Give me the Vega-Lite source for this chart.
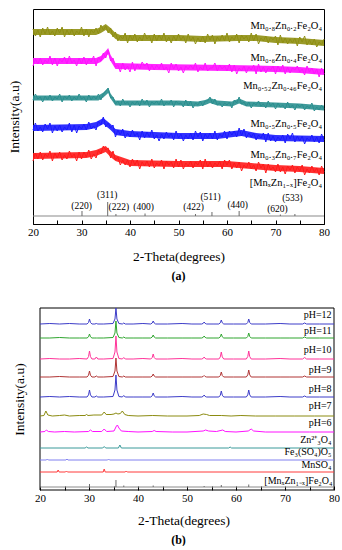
{
"$schema": "https://vega.github.io/schema/vega-lite/v6.json",
"padding": {"left": 6, "top": 8, "right": 0, "bottom": 0},
"config": {"font": "Liberation Serif", "view": {"stroke": "#000", "strokeWidth": 1},
 "axis": {"labelFont": "Liberation Serif", "titleFont": "Liberation Serif", "labelFontSize": 11, "titleFontSize": 13.5, "titleFontWeight": "normal", "labelColor": "#000", "titleColor": "#000", "domainColor": "#000", "tickColor": "#000", "grid": false}},
"resolve": {"scale": {"color": "independent", "strokeWidth": "independent", "x": "independent", "y": "independent"}},
"concat": [
{
 "width": 291, "height": 215,
 "title": {"text": "(a)", "orient": "bottom", "fontSize": 12, "fontWeight": "bold", "font": "Liberation Serif", "offset": 8, "frame": "group"},
 "encoding": {
  "x": {"field": "x", "type": "quantitative", "scale": {"domain": [20, 80], "nice": false, "zero": false},
   "axis": {"title": "2-Theta(degrees)", "values": [20,25,30,35,40,45,50,55,60,65,70,75,80], "labelExpr": "datum.value % 10 === 0 ? datum.label : ''", "tickSize": -4, "labelPadding": 6, "titlePadding": 12, "labelFlush": false}},
  "y": {"field": "y", "type": "quantitative", "scale": {"domain": [0, 215], "nice": false, "zero": false},
   "axis": {"title": "Intensity(a.u)", "labels": false, "ticks": false, "domain": false, "titlePadding": 12, "minExtent": 0}}
 },
 "layer": [
  {"data": {"values": [
{"s":"a","x":20,"y":189,"y2":195},{"s":"a","x":33,"y":189,"y2":195},{"s":"a","x":34,"y":191,"y2":197},{"s":"a","x":35,"y":194,"y2":200},{"s":"a","x":36,"y":190,"y2":196},{"s":"a","x":37,"y":185,"y2":191},{"s":"a","x":38,"y":183,"y2":189},{"s":"a","x":50,"y":183,"y2":189},{"s":"a","x":55,"y":182,"y2":188},{"s":"a","x":62,"y":183,"y2":189},{"s":"a","x":66,"y":183,"y2":189},{"s":"a","x":70,"y":181,"y2":187},{"s":"a","x":75,"y":180,"y2":186},{"s":"a","x":80,"y":178,"y2":184},
{"s":"b","x":20,"y":160,"y2":166},{"s":"b","x":33,"y":160,"y2":166},{"s":"b","x":34,"y":162,"y2":168},{"s":"b","x":35,"y":167,"y2":173},{"s":"b","x":35.5,"y":170,"y2":176},{"s":"b","x":36,"y":163,"y2":169},{"s":"b","x":37,"y":155,"y2":161},{"s":"b","x":45,"y":154,"y2":160},{"s":"b","x":60,"y":153,"y2":159},{"s":"b","x":70,"y":152,"y2":158},{"s":"b","x":75,"y":151,"y2":157},{"s":"b","x":80,"y":149,"y2":155},
{"s":"c","x":20,"y":123.5,"y2":128.5},{"s":"c","x":33.5,"y":123.5,"y2":128.5},{"s":"c","x":34.5,"y":126.5,"y2":131.5},{"s":"c","x":35.5,"y":131,"y2":136},{"s":"c","x":36,"y":125.5,"y2":130.5},{"s":"c","x":37,"y":118.5,"y2":123.5},{"s":"c","x":50,"y":118.5,"y2":123.5},{"s":"c","x":54,"y":117.5,"y2":122.5},{"s":"c","x":55.5,"y":119,"y2":124},{"s":"c","x":56.5,"y":121,"y2":126},{"s":"c","x":58,"y":118.5,"y2":123.5},{"s":"c","x":61,"y":117.5,"y2":122.5},{"s":"c","x":62.5,"y":120.5,"y2":125.5},{"s":"c","x":64,"y":117.5,"y2":122.5},{"s":"c","x":70,"y":116.5,"y2":121.5},{"s":"c","x":75,"y":115.5,"y2":120.5},{"s":"c","x":80,"y":113.5,"y2":118.5},
{"s":"d","x":20,"y":93,"y2":99},{"s":"d","x":31,"y":94,"y2":100},{"s":"d","x":33,"y":96,"y2":102},{"s":"d","x":34.5,"y":100,"y2":106},{"s":"d","x":36,"y":94,"y2":100},{"s":"d","x":37,"y":89,"y2":95},{"s":"d","x":40,"y":87,"y2":93},{"s":"d","x":50,"y":85,"y2":91},{"s":"d","x":58,"y":85,"y2":91},{"s":"d","x":63,"y":88,"y2":94},{"s":"d","x":66,"y":85,"y2":91},{"s":"d","x":70,"y":83,"y2":89},{"s":"d","x":80,"y":82,"y2":88},
{"s":"e","x":20,"y":65,"y2":71},{"s":"e","x":31,"y":66,"y2":72},{"s":"e","x":33,"y":68,"y2":74},{"s":"e","x":35,"y":72,"y2":78},{"s":"e","x":36,"y":67,"y2":73},{"s":"e","x":37,"y":63,"y2":69},{"s":"e","x":40,"y":58,"y2":64},{"s":"e","x":50,"y":57,"y2":63},{"s":"e","x":60,"y":57,"y2":63},{"s":"e","x":65,"y":55,"y2":61},{"s":"e","x":70,"y":53,"y2":59},{"s":"e","x":75,"y":52,"y2":58},{"s":"e","x":80,"y":50,"y2":56}
  ]},
  "mark": {"type": "area", "opacity": 0.9},
  "encoding": {"y2": {"field": "y2"}, "color": {"field": "s", "type": "nominal", "legend": null, "scale": {"domain": ["a","b","c","d","e"], "range": ["#8f8f12", "#ff10ff", "#2a8f8f", "#1a1aff", "#ff1a1a"]}}}},
  {"data": {"values": [
{"x":20,"a":195,"b":158,"c":124,"d":94,"e":63},
{"x":20.5,"a":188,"b":165,"c":130,"d":101,"e":71},
{"x":21,"a":194,"b":160,"c":125,"d":93,"e":65},
{"x":21.5,"a":187,"b":166,"c":127,"d":97,"e":72},
{"x":22,"a":196,"b":159,"c":122,"d":92,"e":64},
{"x":22.5,"a":190,"b":164,"c":128,"d":100,"e":70},
{"x":23,"a":197,"b":161,"c":124,"d":95,"e":67},
{"x":23.5,"a":189,"b":168,"c":129,"d":101,"e":73},
{"x":24,"a":193,"b":159,"c":123,"d":91,"e":63},
{"x":24.5,"a":188,"b":166,"c":127,"d":98,"e":71},
{"x":25,"a":196,"b":158,"c":125,"d":93,"e":66},
{"x":25.5,"a":191,"b":165,"c":130,"d":99,"e":72},
{"x":26,"a":197,"b":162,"c":122,"d":92,"e":64},
{"x":26.5,"a":187,"b":167,"c":128,"d":97,"e":69},
{"x":27,"a":194,"b":160,"c":125,"d":94,"e":65},
{"x":27.5,"a":189,"b":168,"c":129,"d":101,"e":73},
{"x":28,"a":195,"b":161,"c":123,"d":92,"e":67},
{"x":28.5,"a":188,"b":164,"c":127,"d":99,"e":70},
{"x":29,"a":193,"b":158,"c":124,"d":91,"e":63},
{"x":29.5,"a":190,"b":166,"c":130,"d":98,"e":72},
{"x":30,"a":197,"b":160,"c":125,"d":95,"e":65},
{"x":30.5,"a":188,"b":167,"c":127,"d":100,"e":72},
{"x":31,"a":195,"b":159,"c":122,"d":94,"e":67},
{"x":31.5,"a":187,"b":165,"c":129,"d":102,"e":74},
{"x":32,"a":194,"b":162,"c":124,"d":95,"e":65},
{"x":32.5,"a":191,"b":168,"c":128,"d":98,"e":70},
{"x":33,"a":196,"b":158,"c":125,"d":94,"e":66},
{"x":33.5,"a":190,"b":167,"c":130,"d":103,"e":74},
{"x":34,"a":199,"b":163,"c":124,"d":99,"e":70},
{"x":34.5,"a":194,"b":171,"c":130,"d":107,"e":78},
{"x":35,"a":198,"b":166,"c":133,"d":97,"e":74},
{"x":35.5,"a":191,"b":174,"c":136,"d":101,"e":76},
{"x":36,"a":196,"b":163,"c":126,"d":96,"e":66},
{"x":36.5,"a":187,"b":166,"c":127,"d":99,"e":73},
{"x":37,"a":192,"b":157,"c":120,"d":87,"e":64},
{"x":37.5,"a":183,"b":159,"c":123,"d":94,"e":67},
{"x":38,"a":188,"b":152,"c":118,"d":89,"e":59},
{"x":38.5,"a":185,"b":161,"c":125,"d":95,"e":64},
{"x":39,"a":191,"b":154,"c":120,"d":86,"e":59},
{"x":39.5,"a":181,"b":158,"c":122,"d":91,"e":64},
{"x":40,"a":189,"b":152,"c":117,"d":87,"e":57},
{"x":40.5,"a":184,"b":162,"c":122,"d":94,"e":65},
{"x":41,"a":190,"b":153,"c":119,"d":88,"e":59},
{"x":41.5,"a":182,"b":160,"c":123,"d":91,"e":64},
{"x":42,"a":187,"b":155,"c":118,"d":84,"e":55},
{"x":42.5,"a":183,"b":162,"c":125,"d":93,"e":62},
{"x":43,"a":191,"b":158,"c":120,"d":86,"e":58},
{"x":43.5,"a":185,"b":161,"c":124,"d":92,"e":63},
{"x":44,"a":188,"b":153,"c":117,"d":87,"e":57},
{"x":44.5,"a":181,"b":159,"c":122,"d":94,"e":65},
{"x":45,"a":190,"b":154,"c":120,"d":85,"e":56},
{"x":45.5,"a":183,"b":159,"c":123,"d":89,"e":61},
{"x":46,"a":189,"b":155,"c":119,"d":83,"e":58},
{"x":46.5,"a":184,"b":161,"c":125,"d":90,"e":64},
{"x":47,"a":191,"b":154,"c":118,"d":85,"e":55},
{"x":47.5,"a":182,"b":157,"c":122,"d":92,"e":63},
{"x":48,"a":187,"b":151,"c":120,"d":87,"e":59},
{"x":48.5,"a":181,"b":161,"c":124,"d":91,"e":62},
{"x":49,"a":188,"b":155,"c":117,"d":84,"e":56},
{"x":49.5,"a":183,"b":160,"c":123,"d":93,"e":65},
{"x":50,"a":190,"b":153,"c":120,"d":86,"e":57},
{"x":50.5,"a":184,"b":157,"c":121,"d":90,"e":64},
{"x":51,"a":188,"b":151,"c":117,"d":83,"e":55},
{"x":51.5,"a":181,"b":158,"c":124,"d":89,"e":61},
{"x":52,"a":190,"b":155,"c":118,"d":85,"e":58},
{"x":52.5,"a":183,"b":159,"c":123,"d":91,"e":63},
{"x":53,"a":187,"b":155,"c":116,"d":84,"e":56},
{"x":53.5,"a":180,"b":161,"c":121,"d":93,"e":62},
{"x":54,"a":186,"b":152,"c":119,"d":87,"e":59},
{"x":54.5,"a":182,"b":157,"c":123,"d":92,"e":64},
{"x":55,"a":188,"b":154,"c":118,"d":83,"e":55},
{"x":55.5,"a":181,"b":161,"c":123,"d":90,"e":65},
{"x":56,"a":190,"b":153,"c":123,"d":86,"e":57},
{"x":56.5,"a":184,"b":156,"c":127,"d":91,"e":62},
{"x":57,"a":189,"b":156,"c":120,"d":85,"e":56},
{"x":57.5,"a":180,"b":161,"c":125,"d":93,"e":61},
{"x":58,"a":187,"b":153,"c":119,"d":84,"e":58},
{"x":58.5,"a":183,"b":159,"c":121,"d":90,"e":63},
{"x":59,"a":189,"b":155,"c":117,"d":87,"e":55},
{"x":59.5,"a":183,"b":158,"c":121,"d":93,"e":64},
{"x":60,"a":191,"b":153,"c":119,"d":85,"e":59},
{"x":60.5,"a":182,"b":160,"c":122,"d":93,"e":64},
{"x":61,"a":187,"b":152,"c":116,"d":89,"e":55},
{"x":61.5,"a":184,"b":159,"c":124,"d":93,"e":61},
{"x":62,"a":190,"b":150,"c":121,"d":87,"e":56},
{"x":62.5,"a":181,"b":156,"c":127,"d":96,"e":62},
{"x":63,"a":189,"b":153,"c":120,"d":88,"e":53},
{"x":63.5,"a":185,"b":158,"c":122,"d":95,"e":59},
{"x":64,"a":188,"b":151,"c":118,"d":86,"e":56},
{"x":64.5,"a":182,"b":157,"c":122,"d":91,"e":62},
{"x":65,"a":191,"b":154,"c":116,"d":87,"e":55},
{"x":65.5,"a":183,"b":159,"c":121,"d":91,"e":59},
{"x":66,"a":190,"b":150,"c":119,"d":84,"e":53},
{"x":66.5,"a":180,"b":160,"c":123,"d":89,"e":62},
{"x":67,"a":186,"b":152,"c":118,"d":86,"e":56},
{"x":67.5,"a":183,"b":157,"c":120,"d":91,"e":60},
{"x":68,"a":188,"b":151,"c":116,"d":82,"e":51},
{"x":68.5,"a":181,"b":156,"c":123,"d":91,"e":60},
{"x":69,"a":187,"b":154,"c":118,"d":83,"e":54},
{"x":69.5,"a":184,"b":158,"c":121,"d":88,"e":57},
{"x":70,"a":188,"b":150,"c":115,"d":82,"e":52},
{"x":70.5,"a":179,"b":158,"c":121,"d":87,"e":60},
{"x":71,"a":189,"b":153,"c":117,"d":84,"e":52},
{"x":71.5,"a":181,"b":159,"c":119,"d":89,"e":57},
{"x":72,"a":186,"b":150,"c":115,"d":81,"e":50},
{"x":72.5,"a":180,"b":157,"c":122,"d":90,"e":58},
{"x":73,"a":185,"b":151,"c":116,"d":85,"e":54},
{"x":73.5,"a":181,"b":156,"c":119,"d":91,"e":59},
{"x":74,"a":186,"b":154,"c":114,"d":82,"e":51},
{"x":74.5,"a":178,"b":158,"c":120,"d":88,"e":57},
{"x":75,"a":187,"b":152,"c":117,"d":83,"e":53},
{"x":75.5,"a":182,"b":155,"c":120,"d":88,"e":59},
{"x":76,"a":188,"b":149,"c":114,"d":80,"e":49},
{"x":76.5,"a":179,"b":158,"c":118,"d":86,"e":55},
{"x":77,"a":184,"b":152,"c":116,"d":83,"e":51},
{"x":77.5,"a":179,"b":156,"c":121,"d":89,"e":58},
{"x":78,"a":185,"b":150,"c":113,"d":82,"e":52},
{"x":78.5,"a":177,"b":155,"c":117,"d":87,"e":56},
{"x":79,"a":182,"b":147,"c":114,"d":81,"e":49},
{"x":79.5,"a":179,"b":156,"c":119,"d":90,"e":58},
{"x":80,"a":185,"b":150,"c":115,"d":84,"e":52}
  ]},
  "transform": [{"fold": ["a", "b", "c", "d", "e"], "as": ["s", "y"]}],
  "mark": {"type": "line", "strokeWidth": 1},
  "encoding": {"color": {"field": "s", "type": "nominal", "legend": null, "scale": {"domain": ["a","b","c","d","e"], "range": ["#8f8f12", "#ff10ff", "#2a8f8f", "#1a1aff", "#ff1a1a"]}}}},
  {"data": {"values": [{"x": 20, "y": 8}, {"x": 80, "y": 8}]},
   "mark": {"type": "line", "color": "#8a8a8a", "strokeWidth": 1.2}, "encoding": {}},
  {"data": {"values": [
{"x":30.1,"y":8,"y2":13},{"x":35.4,"y":8,"y2":22},{"x":37.1,"y":8,"y2":10},{"x":43.1,"y":8,"y2":10.5},{"x":53.5,"y":8,"y2":10},{"x":56.9,"y":8,"y2":12},{"x":62.5,"y":8,"y2":13},{"x":71,"y":8,"y2":9.5},{"x":74,"y":8,"y2":10}]},
   "mark": {"type": "rule", "color": "#6a6a6a", "strokeWidth": 1}, "encoding": {"y2": {"field": "y2"}}},
  {"data": {"values": [
{"x":30,"y":18,"t":"(220)"},{"x":35.3,"y":29,"t":"(311)"},{"x":37.7,"y":17,"t":"(222)"},{"x":42.8,"y":17,"t":"(400)"},{"x":53.1,"y":17,"t":"(422)"},{"x":56.6,"y":27,"t":"(511)"},{"x":62.2,"y":19,"t":"(440)"},{"x":70.4,"y":15,"t":"(620)"},{"x":73.5,"y":26,"t":"(533)"}]},
   "mark": {"type": "text", "align": "center", "baseline": "middle", "fontSize": 9.5, "color": "#000"}, "encoding": {"text": {"field": "t"}}},
  {"data": {"values": [
{"x":79.6,"y":198,"t":"Mn₀.₈Zn₀.₂Fe₂O₄"},{"x":79.6,"y":166,"t":"Mn₀.₆Zn₀.₄Fe₂O₄"},{"x":79.6,"y":138,"t":"Mn₀.₅₂Zn₀.₄₆Fe₂O₄"},{"x":79.6,"y":100,"t":"Mn₀.₅Zn₀.₅Fe₂O₄"},{"x":79.6,"y":69,"t":"Mn₀.₃Zn₀.₇Fe₂O₄"},{"x":79.6,"y":41,"t":"[MnₓZn₁₋ₓ]Fe₂O₄"}]},
   "mark": {"type": "text", "align": "right", "baseline": "middle", "fontSize": 10.5, "color": "#000"}, "encoding": {"text": {"field": "t"}}}
 ]
},
{
 "width": 301, "height": 182,
 "view": {"stroke": null},
 "title": {"text": "(b)", "orient": "bottom", "fontSize": 12, "fontWeight": "bold", "font": "Liberation Serif", "offset": 8, "frame": "group", "dx": -5},
 "encoding": {
  "x": {"field": "x", "type": "quantitative", "scale": {"domain": [18.57, 80], "nice": false, "zero": false},
   "axis": {"title": "2-Theta(degrees)", "values": [20,25,30,35,40,45,50,55,60,65,70,75,80], "labelExpr": "datum.value % 10 === 0 ? datum.label : ''", "tickSize": -4, "labelPadding": 6, "titlePadding": 10, "labelFlush": false, "domain": false}},
  "y": {"field": "y", "type": "quantitative", "scale": {"domain": [0, 182], "nice": false, "zero": false},
   "axis": {"title": "Intensity(a.u)", "labels": false, "ticks": false, "domain": false, "titlePadding": 7, "minExtent": 0}}
 },
 "layer": [
  {"data": {"values": [
{"x":20,"y":0,"x2":80,"y2":0},{"x":20,"y":182,"x2":80,"y2":182},{"x":20,"y":0,"x2":20,"y2":182},{"x":80,"y":0,"x2":80,"y2":182}]},
   "mark": {"type": "rule", "color": "#000", "strokeWidth": 1}, "encoding": {"x2": {"field": "x2"}, "y2": {"field": "y2"}}},
  {"data": {"values": [
{"x":20,"p12":166,"p11":152,"p10":131,"p9":113,"p8":93},
{"x":22,"p12":166.5,"p11":152,"p10":131.5,"p9":113,"p8":93.5},
{"x":24,"p12":166,"p11":152.5,"p10":131,"p9":113.5,"p8":93},
{"x":26,"p12":166.5,"p11":152,"p10":131,"p9":113,"p8":93.5},
{"x":28,"p12":166,"p11":152,"p10":131.5,"p9":113,"p8":93},
{"x":29.6,"p12":166,"p11":152,"p10":131,"p9":113,"p8":93},
{"x":29.9,"p12":167.5,"p11":153.2,"p10":133.4,"p9":114.8,"p8":95.1},
{"x":30.1,"p12":171,"p11":156,"p10":139,"p9":119,"p8":100},
{"x":30.3,"p12":167.5,"p11":153.2,"p10":133.4,"p9":114.8,"p8":95.1},
{"x":30.6,"p12":166,"p11":152,"p10":131,"p9":113,"p8":93},
{"x":31.2,"p12":166,"p11":152,"p10":131,"p9":113,"p8":93},
{"x":31.5,"p12":166.5,"p11":152,"p10":133,"p9":114,"p8":94},
{"x":31.8,"p12":166,"p11":152,"p10":131,"p9":113,"p8":93},
{"x":33,"p12":166,"p11":152,"p10":131,"p9":113,"p8":93},
{"x":34.9,"p12":166.5,"p11":152.5,"p10":131.5,"p9":113.5,"p8":93.5},
{"x":35.3,"p12":171,"p11":157,"p10":138,"p9":119,"p8":100},
{"x":35.5,"p12":182,"p11":169,"p10":154,"p9":132,"p8":115},
{"x":35.7,"p12":171,"p11":157,"p10":138,"p9":119,"p8":100},
{"x":36.1,"p12":166.5,"p11":152.5,"p10":131.5,"p9":113.5,"p8":93.5},
{"x":36.8,"p12":166,"p11":152,"p10":131,"p9":113,"p8":93},
{"x":37.1,"p12":167,"p11":153,"p10":132.5,"p9":114,"p8":94.5},
{"x":37.4,"p12":166,"p11":152,"p10":131,"p9":113,"p8":93},
{"x":39,"p12":166,"p11":152,"p10":131,"p9":113,"p8":93},
{"x":41,"p12":166.5,"p11":152,"p10":131.5,"p9":113,"p8":93},
{"x":42.6,"p12":166,"p11":152,"p10":131,"p9":113,"p8":93},
{"x":42.9,"p12":167,"p11":153,"p10":132.5,"p9":114,"p8":94.2},
{"x":43.1,"p12":169,"p11":155,"p10":136,"p9":116,"p8":97},
{"x":43.3,"p12":167,"p11":153,"p10":132.5,"p9":114,"p8":94.2},
{"x":43.6,"p12":166,"p11":152,"p10":131,"p9":113,"p8":93},
{"x":46,"p12":166,"p11":152,"p10":131,"p9":113,"p8":93},
{"x":49,"p12":166.5,"p11":152,"p10":131.5,"p9":113,"p8":93.5},
{"x":51,"p12":166,"p11":152,"p10":131,"p9":113,"p8":93},
{"x":53.0,"p12":166,"p11":152,"p10":131,"p9":113,"p8":93},
{"x":53.3,"p12":166.6,"p11":152.6,"p10":131.6,"p9":113.5,"p8":93.6},
{"x":53.5,"p12":168,"p11":154,"p10":133,"p9":114.5,"p8":95},
{"x":53.7,"p12":166.6,"p11":152.6,"p10":131.6,"p9":113.5,"p8":93.6},
{"x":54.0,"p12":166,"p11":152,"p10":131,"p9":113,"p8":93},
{"x":55.5,"p12":166,"p11":152,"p10":131,"p9":113,"p8":93},
{"x":56.5,"p12":166,"p11":152,"p10":131,"p9":113,"p8":93},
{"x":56.8,"p12":167.2,"p11":153.2,"p10":133.1,"p9":114.5,"p8":94.8},
{"x":57.0,"p12":170,"p11":156,"p10":138,"p9":118,"p8":99},
{"x":57.2,"p12":167.2,"p11":153.2,"p10":133.1,"p9":114.5,"p8":94.8},
{"x":57.5,"p12":166,"p11":152,"p10":131,"p9":113,"p8":93},
{"x":59.5,"p12":166,"p11":152,"p10":131,"p9":113,"p8":93},
{"x":62.1,"p12":166,"p11":152,"p10":131,"p9":113,"p8":93},
{"x":62.4,"p12":167.5,"p11":153.5,"p10":133.4,"p9":115.1,"p8":95.1},
{"x":62.6,"p12":171,"p11":157,"p10":139,"p9":120,"p8":100},
{"x":62.8,"p12":167.5,"p11":153.5,"p10":133.4,"p9":115.1,"p8":95.1},
{"x":63.1,"p12":166,"p11":152,"p10":131,"p9":113,"p8":93},
{"x":66,"p12":166,"p11":152,"p10":131,"p9":113,"p8":93},
{"x":69,"p12":166.5,"p11":152,"p10":131.5,"p9":113,"p8":93.5},
{"x":71,"p12":166,"p11":152,"p10":131,"p9":113,"p8":93},
{"x":73.6,"p12":166,"p11":152,"p10":131,"p9":113,"p8":93},
{"x":74.0,"p12":167,"p11":153,"p10":132.5,"p9":114,"p8":94},
{"x":74.4,"p12":166,"p11":152,"p10":131,"p9":113,"p8":93},
{"x":77,"p12":166,"p11":152,"p10":131,"p9":113,"p8":93},
{"x":80,"p12":166,"p11":152,"p10":131,"p9":113,"p8":93}
  ]},
  "transform": [{"fold": ["p12", "p11", "p10", "p9", "p8"], "as": ["s", "y"]}],
  "mark": {"type": "line", "strokeWidth": 1},
  "encoding": {"color": {"field": "s", "type": "nominal", "legend": null, "scale": {"domain": ["p12","p11","p10","p9","p8","p7","p6","zn","fe","mn","ref"], "range": ["#3c3cc8","#2fa52f","#ff3399","#b03434","#3c3cc8","#8b8b10","#ff10ff","#3a9a9a","#8080f0","#ff3b3b","#8a8a8a"]}}}},
  {"data": {"values": [
{"s":"p7","x":20,"y":74},{"s":"p7","x":20.8,"y":74.5},{"s":"p7","x":21.2,"y":79},{"s":"p7","x":21.6,"y":75},{"s":"p7","x":22.5,"y":74},{"s":"p7","x":24,"y":74.5},{"s":"p7","x":25,"y":75},{"s":"p7","x":26,"y":74},{"s":"p7","x":28,"y":74.5},{"s":"p7","x":29.2,"y":74.5},{"s":"p7","x":29.5,"y":75.5},{"s":"p7","x":29.8,"y":74.5},{"s":"p7","x":31,"y":75},{"s":"p7","x":32.6,"y":75},{"s":"p7","x":33.1,"y":78},{"s":"p7","x":33.5,"y":75.5},{"s":"p7","x":34.5,"y":75.5},{"s":"p7","x":35.1,"y":76},{"s":"p7","x":35.5,"y":77},{"s":"p7","x":35.9,"y":76},{"s":"p7","x":36.4,"y":76.5},{"s":"p7","x":36.8,"y":79},{"s":"p7","x":37.3,"y":75.5},{"s":"p7","x":38,"y":74.5},{"s":"p7","x":40,"y":74},{"s":"p7","x":43,"y":74.5},{"s":"p7","x":46,"y":74},{"s":"p7","x":50,"y":74},{"s":"p7","x":52.5,"y":74.5},{"s":"p7","x":53.3,"y":76},{"s":"p7","x":54,"y":75.5},{"s":"p7","x":54.6,"y":74.5},{"s":"p7","x":57,"y":74.5},{"s":"p7","x":59,"y":74},{"s":"p7","x":61,"y":74.5},{"s":"p7","x":64,"y":74},{"s":"p7","x":68,"y":74},{"s":"p7","x":72,"y":74},{"s":"p7","x":76,"y":74},{"s":"p7","x":80,"y":74},
{"s":"p6","x":20,"y":58},{"s":"p6","x":21,"y":58.5},{"s":"p6","x":21.3,"y":60},{"s":"p6","x":21.7,"y":58.5},{"s":"p6","x":23,"y":58},{"s":"p6","x":25,"y":58.5},{"s":"p6","x":27,"y":58},{"s":"p6","x":29.9,"y":58.5},{"s":"p6","x":30.3,"y":60},{"s":"p6","x":30.7,"y":58.5},{"s":"p6","x":32.6,"y":58.5},{"s":"p6","x":33.1,"y":61},{"s":"p6","x":33.6,"y":58.5},{"s":"p6","x":35.1,"y":59},{"s":"p6","x":35.6,"y":64},{"s":"p6","x":35.8,"y":65},{"s":"p6","x":36.1,"y":62},{"s":"p6","x":36.6,"y":59},{"s":"p6","x":38,"y":58.5},{"s":"p6","x":40,"y":58},{"s":"p6","x":42.9,"y":58.5},{"s":"p6","x":43.3,"y":59.5},{"s":"p6","x":43.7,"y":58.5},{"s":"p6","x":47,"y":58},{"s":"p6","x":50,"y":58},{"s":"p6","x":53.3,"y":59},{"s":"p6","x":53.8,"y":60},{"s":"p6","x":54.4,"y":59},{"s":"p6","x":56,"y":58.5},{"s":"p6","x":57.3,"y":60},{"s":"p6","x":57.8,"y":58.5},{"s":"p6","x":60,"y":58},{"s":"p6","x":62.5,"y":59},{"s":"p6","x":63.1,"y":61},{"s":"p6","x":63.6,"y":59},{"s":"p6","x":66,"y":58},{"s":"p6","x":70,"y":58},{"s":"p6","x":75,"y":58},{"s":"p6","x":80,"y":58},
{"s":"zn","x":20,"y":42},{"s":"zn","x":29.2,"y":42},{"s":"zn","x":29.5,"y":43},{"s":"zn","x":29.8,"y":42},{"s":"zn","x":32.8,"y":42},{"s":"zn","x":33.1,"y":43.5},{"s":"zn","x":33.4,"y":42},{"s":"zn","x":36,"y":42},{"s":"zn","x":36.3,"y":45},{"s":"zn","x":36.6,"y":42},{"s":"zn","x":58.5,"y":42},{"s":"zn","x":58.8,"y":43},{"s":"zn","x":59.1,"y":42},{"s":"zn","x":80,"y":42},
{"s":"fe","x":20,"y":30},{"s":"fe","x":21.3,"y":30},{"s":"fe","x":21.5,"y":31},{"s":"fe","x":21.7,"y":30},{"s":"fe","x":25.3,"y":30},{"s":"fe","x":25.5,"y":31},{"s":"fe","x":25.7,"y":30},{"s":"fe","x":33.8,"y":30},{"s":"fe","x":34,"y":31},{"s":"fe","x":34.2,"y":30},{"s":"fe","x":80,"y":30},
{"s":"mn","x":20,"y":18},{"s":"mn","x":23.5,"y":18},{"s":"mn","x":23.7,"y":20},{"s":"mn","x":23.9,"y":18},{"s":"mn","x":25.2,"y":18},{"s":"mn","x":25.4,"y":19},{"s":"mn","x":25.6,"y":18},{"s":"mn","x":32.9,"y":18},{"s":"mn","x":33.1,"y":21},{"s":"mn","x":33.3,"y":18},{"s":"mn","x":37.4,"y":18},{"s":"mn","x":37.6,"y":19},{"s":"mn","x":37.8,"y":18},{"s":"mn","x":80,"y":18},
{"s":"ref","x":20,"y":3},{"s":"ref","x":80,"y":3}
  ]},
  "mark": {"type": "line"},
  "encoding": {"color": {"field": "s", "type": "nominal", "legend": null, "scale": {"domain": ["p12","p11","p10","p9","p8","p7","p6","zn","fe","mn","ref"], "range": ["#3c3cc8","#2fa52f","#ff3399","#b03434","#3c3cc8","#8b8b10","#ff10ff","#3a9a9a","#8080f0","#ff3b3b","#8a8a8a"]}},
   "strokeWidth": {"field": "s", "type": "nominal", "legend": null, "scale": {"domain": ["p7","p6","zn","fe","mn","ref"], "range": [1, 1, 1.3, 2, 1, 2]}}}},
  {"data": {"values": [
{"x":30.1,"y":3,"y2":6},{"x":35.5,"y":3,"y2":10},{"x":37.1,"y":3,"y2":4.5},{"x":43.1,"y":3,"y2":4.5},{"x":53.5,"y":3,"y2":4},{"x":57,"y":3,"y2":5},{"x":62.6,"y":3,"y2":5.5}]},
   "mark": {"type": "rule", "color": "#6a6a6a", "strokeWidth": 1}, "encoding": {"y2": {"field": "y2"}}},
  {"data": {"values": [
{"x":79.5,"y":175,"t":"pH=12"},{"x":79.5,"y":159,"t":"pH=11"},{"x":79.5,"y":140,"t":"pH=10"},{"x":79.5,"y":120,"t":"pH=9"},{"x":79.5,"y":101,"t":"pH=8"},{"x":79.5,"y":84,"t":"pH=7"},{"x":79.5,"y":67,"t":"pH=6"},{"x":79.5,"y":50,"t":"Zn²⁺₃O₄"},{"x":79.5,"y":38,"t":"Fe₃(SO₄)O₅"},{"x":79.5,"y":25,"t":"MnSO₄"},{"x":79.7,"y":9,"t":"[MnₓZn₁₋ₓ]Fe₂O₄"}]},
   "mark": {"type": "text", "align": "right", "baseline": "middle", "fontSize": 10, "color": "#000"}, "encoding": {"text": {"field": "t"}}}
 ]
}
],
"columns": 1,
"spacing": 24
}
